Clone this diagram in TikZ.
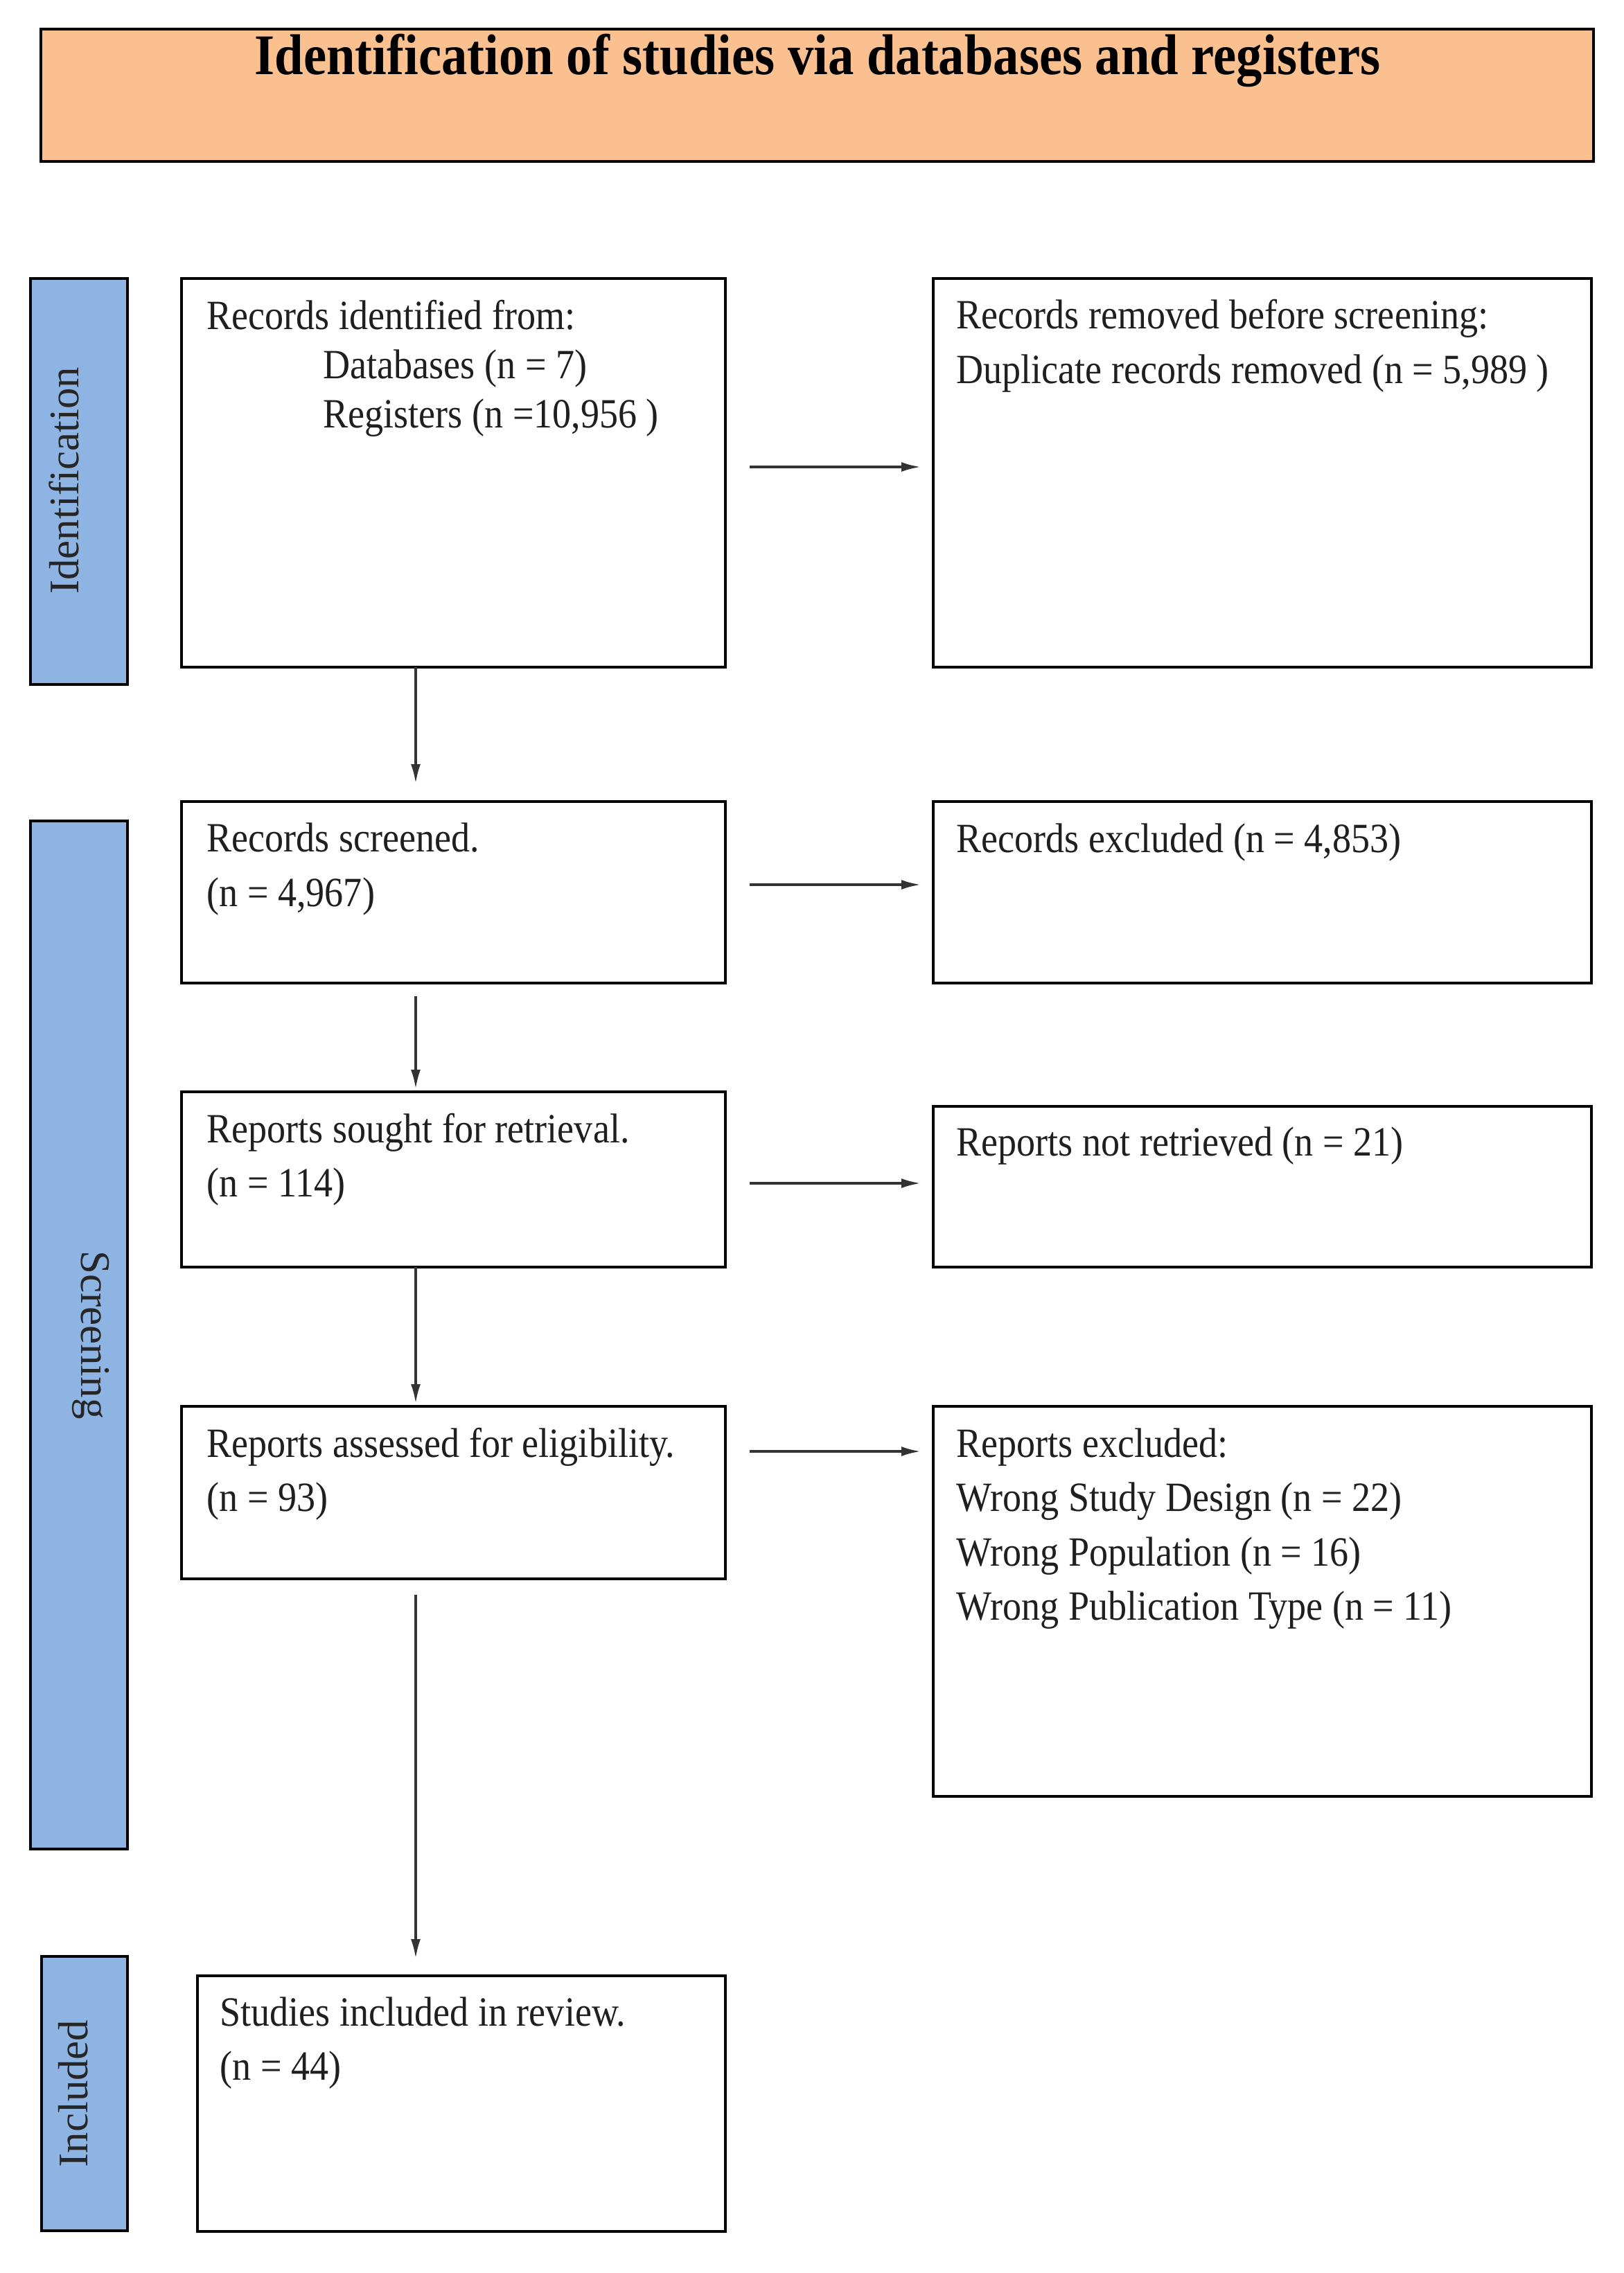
\documentclass[tikz,border=0pt]{standalone}
\usepackage{fontspec}
\setmainfont{Liberation Serif}
\newfontfamily\bodyfont[FakeStretch=0.9]{Liberation Serif}
\newfontfamily\titlefont[FakeStretch=0.9]{Liberation Serif}
\usetikzlibrary{arrows.meta}
\definecolor{hdrfill}{RGB}{250,192,144}
\definecolor{labfill}{RGB}{142,180,227}
\begin{document}
\begin{tikzpicture}[x=1cm,y=1cm,
  box/.style={draw=black, line width=0.04cm, fill=white, rectangle, anchor=north west, inner sep=0pt, outer sep=0pt},
  lab/.style={draw=black, line width=0.04cm, fill=labfill, rectangle, anchor=north west, inner sep=0pt, outer sep=0pt},
  txt/.style={anchor=base west, align=left, inner sep=0pt, font={\bodyfont\fontsize{17.1}{22.2}\selectfont}, text=black!88},
  txtA/.style={anchor=base west, align=left, inner sep=0pt, font={\bodyfont\fontsize{17.1}{20.2}\selectfont}, text=black!88},
  labtxt/.style={inner sep=0pt, font={\fontsize{17.3}{20}\selectfont}, text=black!85},
  arr/.style={draw=black!80, line width=0.035cm, -{Latex[length=0.28cm,width=0.14cm]}}
]
\useasboundingbox (0,0) rectangle (23.44,-32.81);

% header
\node[box, fill=hdrfill, minimum width=22.41cm, minimum height=1.91cm] (hdr) at (0.59,-0.42) {};
\node[anchor=base, inner sep=0pt, font={\titlefont\bfseries\fontsize{23.6}{28}\selectfont}] (title) at (11.80,-1.07) {Identification of studies via databases and registers};

% phase labels
\node[lab, minimum width=1.40cm, minimum height=5.86cm] (lab1) at (0.44,-4.02) {};
\node[lab, minimum width=1.40cm, minimum height=14.84cm] (lab2) at (0.44,-11.85) {};
\node[lab, minimum width=1.24cm, minimum height=3.96cm] (lab3) at (0.60,-28.24) {};
\node[labtxt, rotate=90] (lt1) at (0.92,-6.94) {Identification};
\node[labtxt, rotate=-90] (lt2) at (1.31,-19.27) {Screening};
\node[labtxt, rotate=90] (lt3) at (1.06,-30.22) {Included};

% left column boxes
\node[box, minimum width=7.85cm, minimum height=5.61cm] (b1) at (2.62,-4.02) {};
\node[box, minimum width=7.85cm, minimum height=2.62cm] (b2) at (2.62,-11.57) {};
\node[box, minimum width=7.85cm, minimum height=2.53cm] (b3) at (2.62,-15.76) {};
\node[box, minimum width=7.85cm, minimum height=2.49cm] (b4) at (2.62,-20.30) {};
\node[box, minimum width=7.62cm, minimum height=3.69cm] (b5) at (2.85,-28.52) {};

% right column boxes
\node[box, minimum width=9.50cm, minimum height=5.61cm] (r1) at (13.47,-4.02) {};
\node[box, minimum width=9.50cm, minimum height=2.62cm] (r2) at (13.47,-11.57) {};
\node[box, minimum width=9.50cm, minimum height=2.32cm] (r3) at (13.47,-15.97) {};
\node[box, minimum width=9.50cm, minimum height=5.63cm] (r4) at (13.47,-20.30) {};

% texts (anchored at the baseline of their last line)
\node[txtA] (t1) at (2.98,-6.17) {Records identified from:\\\hspace*{1.68cm}Databases (n = 7)\\\hspace*{1.68cm}Registers (n =10,956 )};
\node[txt] (t2) at (2.98,-13.08) {Records screened.\\(n = 4,967)};
\node[txt] (t3) at (2.98,-17.27) {Reports sought for retrieval.\\(n = 114)};
\node[txt] (t4) at (2.98,-21.81) {Reports assessed for eligibility.\\(n = 93)};
\node[txt] (t5) at (3.17,-30.02) {Studies included in review.\\(n = 44)};
\node[txt] (s1) at (13.80,-5.53) {Records removed before screening:\\Duplicate records removed (n = 5,989 )};
\node[txt] (s2) at (13.80,-12.30) {Records excluded (n = 4,853)};
\node[txt] (s3) at (13.80,-16.68) {Reports not retrieved (n = 21)};
\node[txt] (s4) at (13.80,-23.38) {Reports excluded:\\Wrong Study Design (n = 22)\\Wrong Population (n = 16)\\Wrong Publication Type (n = 11)};

% horizontal arrows
\coordinate (h1) at ([yshift=0.085cm]b1.east);
\coordinate (h2) at ([yshift=0.11cm]b2.east);
\coordinate (h3) at ([yshift=-0.055cm]b3.east);
\coordinate (h4) at ([yshift=0.595cm]b4.east);
\draw[arr, shorten <=0.35cm, shorten >=0.18cm] (h1) -- (h1 -| r1.west);
\draw[arr, shorten <=0.35cm, shorten >=0.18cm] (h2) -- (h2 -| r2.west);
\draw[arr, shorten <=0.35cm, shorten >=0.18cm] (h3) -- (h3 -| r3.west);
\draw[arr, shorten <=0.35cm, shorten >=0.18cm] (h4) -- (h4 -| r4.west);

% vertical arrows
\coordinate (v1) at ([xshift=-0.545cm]b1.south);
\coordinate (v2) at ([xshift=-0.545cm]b2.south);
\coordinate (v3) at ([xshift=-0.545cm]b3.south);
\coordinate (v4) at ([xshift=-0.545cm]b4.south);
\draw[arr, shorten >=0.26cm] (v1) -- (v1 |- b2.north);
\draw[arr, shorten <=0.19cm, shorten >=0.04cm] (v2) -- (v2 |- b3.north);
\draw[arr, shorten >=0.04cm] (v3) -- (v3 |- b4.north);
\draw[arr, shorten <=0.23cm, shorten >=0.25cm] (v4) -- (v4 |- b5.north);
\end{tikzpicture}
\end{document}
